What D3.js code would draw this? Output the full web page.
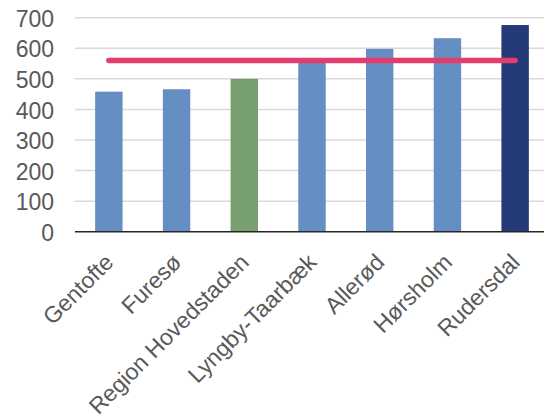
<!DOCTYPE html>
<html><head><meta charset="utf-8">
<script src="https://cdn.jsdelivr.net/npm/d3@7"></script>
<style>html,body{margin:0;padding:0;background:#fff;}svg{display:block;}</style>
</head><body>
<svg id="chart" width="544" height="420"></svg>
<script>
const categories = ["Gentofte","Furesø","Region Hovedstaden","Lyngby-Taarbæk","Allerød","Hørsholm","Rudersdal"];
const values = [458, 466, 500, 556, 598, 633, 676];
const barColors = ["#658FC2","#658FC2","#78A06E","#658FC2","#658FC2","#658FC2","#243A78"];
const referenceValue = 560;
const yTicks = [0,100,200,300,400,500,600,700];

const svg = d3.select("#chart");
const x = d3.scaleBand().domain(categories).range([75, 549]).paddingInner(0.595).paddingOuter(0.2975);
const y = d3.scaleLinear().domain([0, 700]).range([231.7, 17.7]);
const font = "'Liberation Sans', Arial, sans-serif";

// gridlines
svg.append("g").selectAll("line").data(yTicks.filter(d => d > 0)).join("line")
  .attr("x1", 75).attr("x2", 544)
  .attr("y1", d => y(d)).attr("y2", d => y(d))
  .attr("stroke", "#D9D9D9").attr("stroke-width", 1.5);

// y labels
svg.append("g").selectAll("text").data(yTicks).join("text")
  .attr("x", 54).attr("y", d => y(d)).attr("dy", "0.4em")
  .attr("text-anchor", "end").attr("font-family", font).attr("font-size", 23)
  .attr("fill", "#595959").text(d => d);

// bars
svg.append("g").selectAll("rect").data(categories).join("rect")
  .attr("x", d => x(d)).attr("width", x.bandwidth())
  .attr("y", (d, i) => y(values[i])).attr("height", (d, i) => y(0) - y(values[i]))
  .attr("fill", (d, i) => barColors[i]);

// baseline
svg.append("line").attr("x1", 75).attr("x2", 544).attr("y1", y(0)).attr("y2", y(0))
  .attr("stroke", "#262626").attr("stroke-width", 1.5);

// reference line
const c0 = x(categories[0]) + x.bandwidth() / 2;
const c1 = x(categories[categories.length - 1]) + x.bandwidth() / 2;
svg.append("line").attr("x1", c0).attr("x2", c1)
  .attr("y1", y(referenceValue)).attr("y2", y(referenceValue))
  .attr("stroke", "#E23D6D").attr("stroke-width", 5.5).attr("stroke-linecap", "round");

// x labels
svg.append("g").selectAll("text").data(categories).join("text")
  .attr("transform", d => `translate(${x(d) + x.bandwidth() / 2 + 6},${y(0) + 32}) rotate(-45)`)
  .attr("text-anchor", "end").attr("font-family", font).attr("font-size", 23)
  .attr("fill", "#595959").text(d => d);
</script>
</body></html>
